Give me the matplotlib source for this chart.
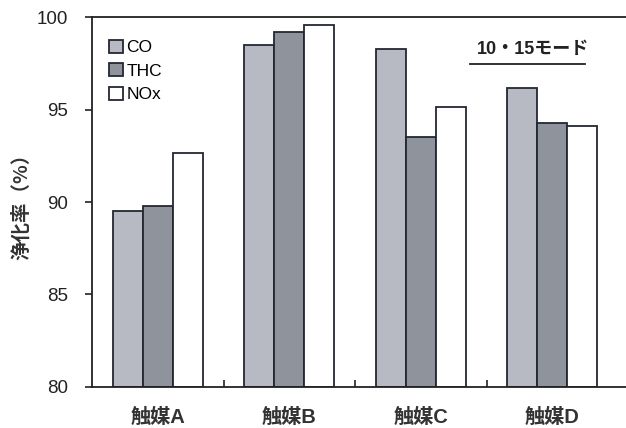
import matplotlib as mpl
mpl.use('Agg')
import matplotlib.pyplot as plt
import numpy as np

plt.rcParams['font.family'] = ['Liberation Sans', 'Noto Sans CJK JP', 'DejaVu Sans']

categories = ['触媒A', '触媒B', '触媒C', '触媒D']
series_names = ['CO', 'THC', 'NOx']
co_values = [89.5, 98.5, 98.3, 96.15]
thc_values = [89.8, 99.2, 93.5, 94.3]
nox_values = [92.65, 99.6, 95.15, 94.1]
y_ticks = [80, 85, 90, 95, 100]

colors = ['#b7bac3', '#8f939b', '#ffffff']
edge = '#222733'

fig = plt.figure(figsize=(6.26, 4.28), dpi=100, facecolor='white')
ax = fig.add_axes([0.147, 0.096, 0.853, 0.864])

x = np.arange(len(categories))
width = 0.228
all_values = [co_values, thc_values, nox_values]
for i, vals in enumerate(all_values):
    ax.bar(x + (i - 1) * width, np.array(vals) - 80, bottom=80, width=width,
           color=colors[i], edgecolor=edge, linewidth=1.3, label=series_names[i])

ax.set_xlim(-0.5, 3.56)
ax.set_ylim(80, 100)
ax.set_yticks(y_ticks)
ax.set_yticklabels([str(v) for v in y_ticks], fontsize=13.5, color='#222222')
ax.tick_params(axis='y', direction='out', length=5, width=1.2, pad=12, colors='#222222')

# category labels in the middle, small ticks between groups
ax.set_xticks(x)
ax.set_xticklabels(categories, fontsize=14.5, fontweight='bold', color='#333333')
ax.tick_params(axis='x', length=0, pad=15)
ax.set_xticks([0.5, 1.5, 2.5], minor=True)
ax.tick_params(axis='x', which='minor', direction='in', length=5, width=1.2, colors='#222222')

ax.spines['right'].set_visible(False)
for s in ['left', 'top', 'bottom']:
    ax.spines[s].set_linewidth(1.3)
    ax.spines[s].set_color('#222222')

ax.set_ylabel('浄化率（%）', fontsize=14, fontweight='bold', color='#333333',
              family=['Noto Sans CJK JP', 'DejaVu Sans'], labelpad=4)

leg = ax.legend(loc='upper left', frameon=False, fontsize=12.5, handlelength=0.8,
                handleheight=0.8, handletextpad=0.2, labelspacing=0.45,
                borderaxespad=0.9, bbox_to_anchor=(-0.01, 1.0))

ax.text(0.825, 0.912, '10・15モード', transform=ax.transAxes, fontsize=13,
        fontweight='bold', color='#222222', ha='center', va='center')
ax.plot([0.708, 0.923], [0.872, 0.872], transform=ax.transAxes, color='#222222',
        linewidth=1.3, clip_on=False)

fig.savefig('out.png', dpi=100, facecolor='white')
